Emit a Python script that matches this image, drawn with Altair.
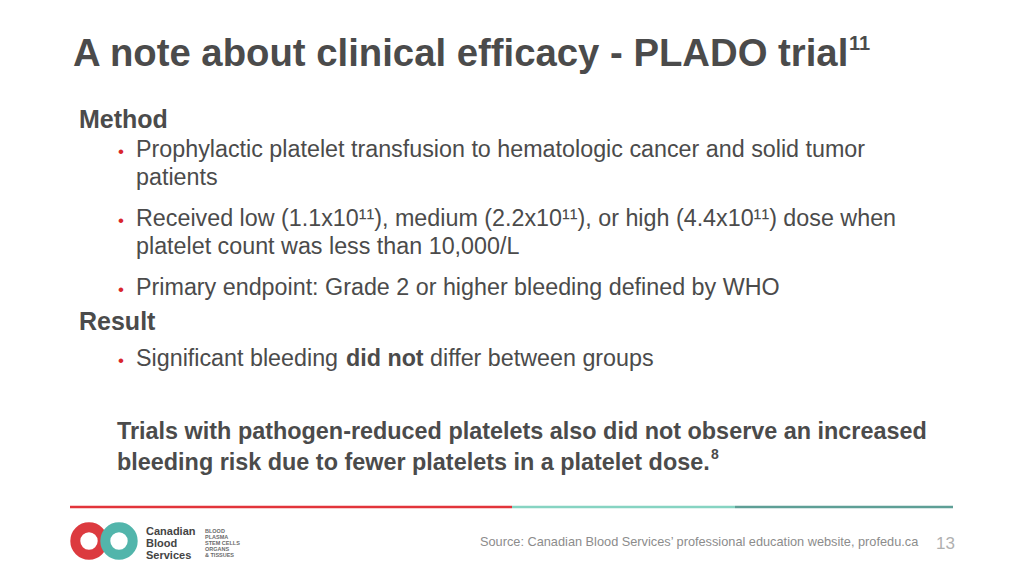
import altair as alt
import pandas as pd

# ---------------- content ----------------
title_text = ["A note about clinical efficacy - PLADO trial"]
title_sup = ["11"]
headings = ["Method", "Result"]
body_lines = [
    "Prophylactic platelet transfusion to hematologic cancer and solid tumor",
    "patients",
    "Received low (1.1x10\u00b9\u00b9), medium (2.2x10\u00b9\u00b9), or high (4.4x10\u00b9\u00b9) dose when",
    "platelet count was less than 10,000/L",
    "Primary endpoint: Grade 2 or higher bleeding defined by WHO",
    "Significant bleeding",
    "differ between groups",
]
body_bold = ["did not"]
note_lines = [
    "Trials with pathogen-reduced platelets also did not observe an increased",
    "bleeding risk due to fewer platelets in a platelet dose.",
]
note_sup = ["8"]
logo_words = ["Canadian", "Blood", "Services"]
logo_tags = ["BLOOD", "PLASMA", "STEM CELLS", "ORGANS", "& TISSUES"]
source_text = ["Source: Canadian Blood Services\u2019 professional education website, profedu.ca"]
page_number = ["13"]

# ---------------- layout (page pixel coordinates) ----------------
title_pos = [(73, 66)]
title_sup_pos = [(849, 50)]
heading_pos = [(79, 128), (79, 330)]
body_pos = [(136, 157), (136, 185), (136, 226), (136, 254), (136, 295), (136, 366), (430, 366)]
bold_pos = [(346, 366)]
bullet_pos = [(118, 157), (118, 226), (118, 295), (118, 366)]
note_pos = [(117, 439), (117, 470)]
note_sup_pos = [(711, 459)]
logo_word_pos = [(146, 535), (146, 547), (146, 559)]
logo_tag_pos = [(205, 533), (205, 539), (205, 545), (205, 551), (205, 557)]
source_pos = [(480, 546)]
page_pos = [(936, 549)]
rule_x = [70, 512, 735]
rule_x2 = [512, 735, 953]
rule_y = [507, 507, 507]
rule_colors = ["#e2343b", "#86d4c2", "#5e9f96"]
ring_x = [89, 119]
ring_y = [541, 541]
ring_colors = ["#dc3a3f", "#52b5ab"]

W, H = 1008, 560
X = lambda f="x": alt.X(f"{f}:Q", scale=alt.Scale(domain=[8, 1016]), axis=None)
Y = lambda f="y": alt.Y(f"{f}:Q", scale=alt.Scale(domain=[8, 568], reverse=True), axis=None)


def df(texts, pos):
    return pd.DataFrame({"text": texts, "x": [p[0] for p in pos], "y": [p[1] for p in pos]})


def text_layer(texts, pos, size, weight, color, font="Liberation Sans"):
    return alt.Chart(df(texts, pos)).mark_text(
        align="left", baseline="alphabetic", font=font, fontSize=size,
        fontWeight=weight, color=color,
    ).encode(x=X(), y=Y(), text="text:N")


DARK = "#4b4b4b"
BODY = 23.3

layers = [
    text_layer(title_text, title_pos, 38.3, "bold", DARK),
    text_layer(title_sup, title_sup_pos, 20, "bold", DARK),
    text_layer(headings, heading_pos, 25, "bold", DARK),
    text_layer(body_lines, body_pos, BODY, "normal", DARK),
    text_layer(body_bold, bold_pos, BODY, "bold", DARK),
    text_layer(["\u2022"] * 4, bullet_pos, 17, "normal", "#d9262c"),
    text_layer(note_lines, note_pos, 23.4, "bold", DARK),
    text_layer(note_sup, note_sup_pos, 14, "bold", DARK),
    text_layer(logo_words, logo_word_pos, 11, "bold", "#444444"),
    text_layer(logo_tags, logo_tag_pos, 5.5, "bold", "#6a6a6a"),
    text_layer(source_text, source_pos, 12.75, "normal", "#8c8c8c"),
    text_layer(page_number, page_pos, 17, "normal", "#b0b0b0"),
]

rules = alt.Chart(pd.DataFrame({"x": rule_x, "x2": rule_x2, "y": rule_y, "c": rule_colors})).mark_rule(
    strokeWidth=2.5
).encode(x=X(), x2="x2:Q", y=Y(), color=alt.Color("c:N", scale=None))

rings = alt.Chart(pd.DataFrame({"x": ring_x, "y": ring_y, "c": ring_colors})).mark_point(
    shape="circle", filled=False, size=750, strokeWidth=10, opacity=1
).encode(x=X(), y=Y(), color=alt.Color("c:N", scale=None))

chart = alt.layer(rules, rings, *layers).properties(
    width=W, height=H, padding=0,
    autosize=alt.AutoSizeParams(type="none"),
    background="white",
).configure_view(stroke=None)

chart.save("out.html", embed_options={"renderer": "svg", "actions": False})
